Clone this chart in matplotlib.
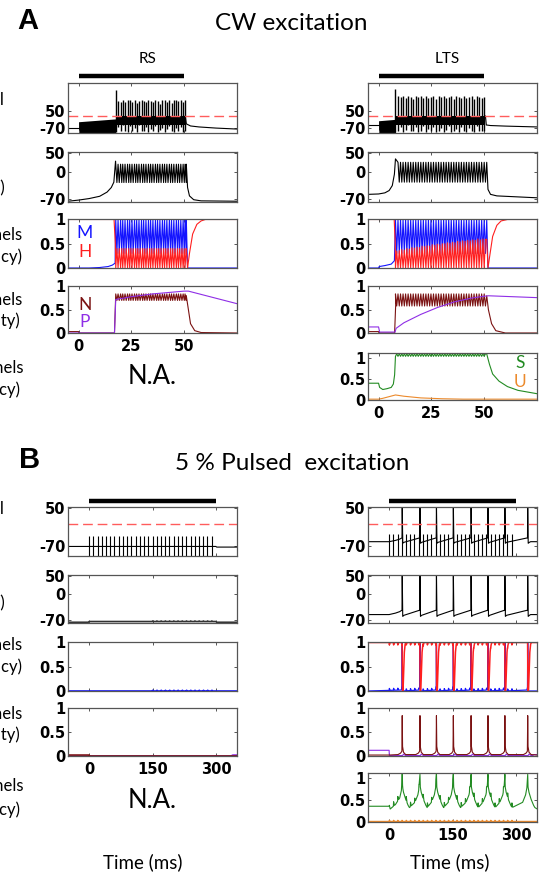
import numpy as np
import matplotlib.pyplot as plt

plt.rcParams['font.family'] = ['Lato', 'DejaVu Sans']
plt.rcParams['axes.unicode_minus'] = False

W, H = 542, 873  # figure size in pixels

BLUE, RED, BROWN, PURPLE = '#1414ff', '#ff1f1f', '#7b1212', '#8f2ee6'
GREEN, ORANGE, THR = '#228b22', '#ec8a2c', '#ff5c5c'

# ================= data =================
# --- A: CW excitation (time -5..75, light on 0..50)
cw_xlim = [-5, 75]
cw_ticks = [0, 25, 50]
cw_light = [0, 50]
cw_thr = 15

# RS cell
rs_spk = [17.6, 18.7, 19.9, 20.9, 22.0, 23.2, 24.2, 25.3, 26.5, 27.5, 28.6,
          29.8, 30.8, 31.9, 33.1, 34.1, 35.2, 36.4, 37.4, 38.5, 39.7, 40.7,
          41.8, 43.0, 44.0, 45.1, 46.3, 47.3, 48.4, 49.5, 50.4]
rs_in_peak = [200, 125, 118, 128, 112, 126, 130, 115, 127, 108, 125, 130, 120,
              112, 128, 124, 117, 130, 122, 102, 127, 129, 116, 128, 110, 126,
              130, 119, 126, 114, 128]
rs_in_low = [-95, -60, -92, -45, -88, -95, -55, -90, -70, -95, -48, -88, -93,
             -62, -95, -78, -90, -52, -95, -86, -66, -95, -80, -56, -92, -95,
             -72, -88, -62, -95, -90]
rs_in_pre = ([-5, 0], [-68, -68])
rs_in_block = ([0, 17.5], [-25, -5])
rs_in_band = [-45, 15]
rs_in_post = ([50.5, 51, 53, 57, 65, 75], [15, -40, -55, -62, -70, -77])

rs_v_pre = ([-5, 0, 5, 10, 13.5, 15.5, 16.7, 17.5], [-76, -73, -69, -63, -52, -40, -26, 29])
rs_v_hi, rs_v_lo = 21, -27
rs_v_post = ([51.0, 51.6, 52.5, 54.5, 58, 75], [21, -40, -62, -72, -75, -76])

rs_m_pre = ([-5, 5, 10, 14, 16, 17.3], [0, 0, 0.01, 0.03, 0.06, 0.1])
rs_m_post = ([51.0, 51.6, 75], [1, 0, 0])
rs_h_pre = ([-5, 16.8, 17.4], [1, 1, 0.5])
rs_h_top = 0.4
rs_h_post = ([51.0, 51.6, 52.5, 54, 56, 58, 60, 75], [0.4, 0, 0.3, 0.7, 0.9, 0.97, 1, 1])

rs_n_pre = ([-5, 0, 0.1, 17, 17.5], [0.03, 0.03, 0, 0, 0.7])
rs_n_hi, rs_n_lo = 0.84, 0.70
rs_n_post = ([51.0, 52, 53, 55, 58, 75], [0.8, 0.5, 0.2, 0.05, 0.01, 0])
rs_p = ([-5, 17, 17.6, 25, 35, 45, 50, 52, 75], [0, 0, 0.72, 0.78, 0.84, 0.88, 0.9, 0.9, 0.63])

# LTS cell
lts_spk = [8.0, 9.2, 10.4, 11.6, 12.8, 14.0, 15.2, 16.4, 17.6, 18.8, 20.0, 21.2,
           22.4, 23.6, 24.8, 26.0, 27.2, 28.4, 29.6, 30.8, 32.0, 33.2, 34.4,
           35.6, 36.8, 38.0, 39.2, 40.4, 41.6, 42.8, 44.0, 45.2, 46.4, 47.6,
           48.8, 50.0]
lts_in_peak = [205, 160, 150, 155, 140, 158, 150, 138, 158, 148, 155, 142, 160,
               140, 150, 157, 137, 155, 148, 158, 140, 150, 156, 139, 155, 148,
               142, 158, 140, 150, 155, 138, 157, 148, 140, 152]
lts_in_low = [-95, -92, -60, -95, -85, -50, -94, -90, -65, -95, -88, -55, -95,
              -80, -92, -60, -95, -90, -70, -95, -86, -58, -95, -92, -75, -95,
              -62, -90, -95, -68, -93, -95, -57, -90, -94, -88]
lts_in_pre = ([-5, 0], [-50, -50])
lts_in_block = ([0, 8], [-18, -8])
lts_in_band = [-45, 15]
lts_in_post = ([50.6, 51, 53, 60, 75], [15, -48, -52, -56, -62])

lts_v_pre = ([-5, 0, 3, 5, 6.5, 7.5, 8], [-58, -57, -54, -48, -35, -5, 35])
lts_v_hi, lts_v_lo = 26, -26
lts_v_post = ([51.2, 51.8, 53, 56, 75], [26, -45, -58, -62, -67])

lts_m_pre = ([-5, 0, 0.3, 3, 6, 7.5], [0, 0, 0.03, 0.05, 0.08, 0.15])
lts_m_post = ([51.2, 51.8, 75], [1, 0, 0])
lts_h_pre = ([-5, 7.4, 7.9], [1, 1, 0.5])
lts_h_top = [0.35, 0.36, 0.38, 0.37, 0.40, 0.39, 0.42, 0.41, 0.43, 0.42, 0.45,
             0.44, 0.46, 0.45, 0.48, 0.47, 0.49, 0.48, 0.50, 0.50, 0.52, 0.51,
             0.53, 0.52, 0.55, 0.54, 0.56, 0.55, 0.57, 0.56, 0.58, 0.57, 0.60,
             0.58, 0.60, 0.59]
lts_h_post = ([51.2, 51.8, 52.8, 54, 56, 58, 61, 75], [0.59, 0, 0.3, 0.65, 0.88, 0.97, 1, 1])

lts_n_pre = ([-5, 0, 0.2, 7.6, 8.1], [0.03, 0.03, 0, 0, 0.6])
lts_n_hi, lts_n_lo = 0.84, 0.58
lts_n_post = ([51.2, 52, 53.5, 55.5, 60, 75], [0.8, 0.5, 0.2, 0.05, 0, 0])
lts_p = ([-5, 0, 0.5, 7.8, 8.3, 12, 20, 28, 36, 44, 50, 52, 75],
         [0.13, 0.13, 0.02, 0.02, 0.1, 0.22, 0.4, 0.55, 0.67, 0.75, 0.79, 0.8, 0.76])

lts_s_pre = ([-5, 0, 0.5, 2, 4, 6, 7, 7.6], [0.4, 0.4, 0.3, 0.25, 0.27, 0.3, 0.38, 0.6])
lts_s_hi, lts_s_lo = 1.04, 1.10
lts_s_post = ([51.2, 51.6, 52.5, 54, 57, 61, 66, 75], [1.1, 1.02, 0.85, 0.62, 0.45, 0.32, 0.23, 0.15])
lts_u = ([-5, 0, 2, 5, 8, 12, 20, 30, 40, 75],
         [0.02, 0.02, 0.04, 0.08, 0.12, 0.09, 0.05, 0.03, 0.02, 0.02])

# --- B: 5 % pulsed excitation (time -50..350, light on 0..300)
pl_xlim = [-50, 350]
pl_ticks = [0, 150, 300]
pl_light = [0, 300]
pl_thr = 0
pulse_t = [0, 10, 20, 30, 40, 50, 60, 70, 80, 90, 100, 110, 120, 130, 140,
           150, 160, 170, 180, 190, 200, 210, 220, 230, 240, 250, 260, 270,
           280, 290]

# RS, pulsed (no firing)
rs5_base = ([-50, 300, 302, 350], [-70, -70, -72, -72])
rs5_pulse_top = -36
rs5_v = ([-50, -2, 0, 300, 302, 350], [-76, -76, -74, -74, -76, -76])
rs5_v_ripple = 1.5      # small ripples from 150 ms on
rs5_m_ripple = 0.015
rs5_n = ([-50, 0, 0.5, 350], [0.02, 0.02, 0, 0])
rs5_p = ([-50, 336, 340, 350], [0, 0, 0.02, 0.02])

# LTS, pulsed
lts5_spk = [31, 73, 112, 152, 194, 234, 274, 328]
lts5_pulse_top = -30
lts5_v_rest, lts5_v_after, lts5_v_before, lts5_v_peak = -55, -60, -43, 60
lts5_s_rest, lts5_s_peak = 0.36, 1.09
# ============================================================

fig = plt.figure(figsize=(W / 100, H / 100), dpi=100)


def add_ax(x, y, w, h):
    return fig.add_axes([x / W, 1 - (y + h) / H, w / W, h / H])


def style(ax, xlim, xt, ylim, yt, ytl, xlab=False):
    ax.set_xlim(xlim)
    ax.set_ylim(ylim)
    ax.set_xticks(xt)
    ax.set_yticks(yt)
    ax.set_yticklabels(ytl, fontweight='bold', fontsize=10.5, family='DejaVu Sans')
    if xlab:
        ax.set_xticklabels([str(v) for v in xt], fontweight='bold', fontsize=10.5,
                           family='DejaVu Sans')
    else:
        ax.set_xticklabels([])
    ax.tick_params(direction='in', top=True, right=True, length=2.5, width=0.7,
                   color='#555555', pad=2)
    ax.tick_params(axis='x', pad=4)
    for s in ax.spines.values():
        s.set_color('#555555')
        s.set_linewidth(0.9)


def zig(pre, spk, at_spk, after, half, post):
    # polyline: pre part, then one cycle per spike, then post part
    n = len(spk)
    a = np.broadcast_to(np.asarray(at_spk, float), (n,))
    b = np.broadcast_to(np.asarray(after, float), (n,))
    x, y = list(pre[0]), list(pre[1])
    for t, va, vb in zip(spk, a, b):
        x += [t, t + half]
        y += [va, vb]
    return x + list(post[0]), y + list(post[1])


def light_bar(ax, span, yfrac):
    ax.plot(span, [yfrac, yfrac], color='k', lw=3.2, solid_capstyle='butt',
            transform=ax.get_xaxis_transform(), clip_on=False)


def bumps(t, times, amp, rise=0.6, fall=2.5):
    out = np.zeros_like(t)
    for p in times:
        out += np.interp(t, [p, p + rise, p + fall], [0, amp, 0], left=0, right=0)
    return out


def ftext(x, y, s, **kw):
    fig.text(x / W, 1 - y / H, s, **kw)


LW = 0.8
colx = [68, 368]
cw_rows = [(83, 50), (152, 50), (219, 49), (286, 47), (353, 47)]
pl_rows = [(507, 49), (575, 48), (642, 49), (708, 48), (773, 49)]
CW = 169
pulse_grid = np.ravel([[p, p + 0.6, p + 2.5] for p in pulse_t])

# ---------------- Panel A, RS ----------------
ax = add_ax(colx[0], cw_rows[0][0], CW, cw_rows[0][1])
style(ax, cw_xlim, cw_ticks, (-105, 250), [-70, 50], ['-70', '50'])
ax.plot(*rs_in_pre, color='k', lw=LW)
ax.fill_between(rs_in_block[0], -110, rs_in_block[1], color='k', lw=0)
ax.fill_between([rs_spk[0], rs_spk[-1]], rs_in_band[0], rs_in_band[1], color='k', lw=0)
ax.vlines(rs_spk, rs_in_low, rs_in_peak, color='k', lw=1.0)
ax.plot(*rs_in_post, color='k', lw=LW)
ax.axhline(cw_thr, color=THR, lw=1, dashes=(7, 3.5))
light_bar(ax, cw_light, 1.14)

ax = add_ax(colx[0], cw_rows[1][0], CW, cw_rows[1][1])
style(ax, cw_xlim, cw_ticks, (-78, 53), [-70, 0, 50], ['-70', '0', '50'])
ax.plot(*zig(rs_v_pre, rs_spk, rs_v_hi, rs_v_lo, 0.55, rs_v_post), color='k', lw=LW)

ax = add_ax(colx[0], cw_rows[2][0], CW, cw_rows[2][1])
style(ax, cw_xlim, cw_ticks, (0, 1.01), [0, 0.5, 1], ['0', '0.5', '1'])
ax.plot(*zig(rs_m_pre, rs_spk, 1, 0.3, 0.55, rs_m_post), color=BLUE, lw=LW)
ax.plot(*zig(rs_h_pre, rs_spk, 0, rs_h_top, 0.55, rs_h_post), color=RED, lw=LW)
ftext(85, 233, 'M', color=BLUE, fontsize=12.5, ha='center', va='center')
ftext(85, 252, 'H', color=RED, fontsize=12.5, ha='center', va='center')

ax = add_ax(colx[0], cw_rows[3][0], CW, cw_rows[3][1])
style(ax, cw_xlim, cw_ticks, (0, 1.01), [0, 0.5, 1], ['0', '0.5', '1'], xlab=True)
ax.plot(*zig(rs_n_pre, rs_spk, rs_n_hi, rs_n_lo, 0.55, rs_n_post), color=BROWN, lw=LW)
ax.plot(*rs_p, color=PURPLE, lw=LW)
ftext(85, 305, 'N', color=BROWN, fontsize=12.5, ha='center', va='center')
ftext(85, 322, 'P', color=PURPLE, fontsize=12.5, ha='center', va='center')

# ---------------- Panel A, LTS ----------------
ax = add_ax(colx[1], cw_rows[0][0], CW, cw_rows[0][1])
style(ax, cw_xlim, cw_ticks, (-105, 250), [-70, 50], ['-70', '50'])
ax.plot(*lts_in_pre, color='k', lw=LW)
ax.fill_between(lts_in_block[0], -110, lts_in_block[1], color='k', lw=0)
ax.fill_between([lts_spk[0], lts_spk[-1]], lts_in_band[0], lts_in_band[1], color='k', lw=0)
ax.vlines(lts_spk, lts_in_low, lts_in_peak, color='k', lw=1.0)
ax.plot(*lts_in_post, color='k', lw=LW)
ax.axhline(cw_thr, color=THR, lw=1, dashes=(7, 3.5))
light_bar(ax, cw_light, 1.14)

ax = add_ax(colx[1], cw_rows[1][0], CW, cw_rows[1][1])
style(ax, cw_xlim, cw_ticks, (-78, 53), [-70, 0, 50], ['-70', '0', '50'])
ax.plot(*zig(lts_v_pre, lts_spk[1:], lts_v_hi, lts_v_lo, 0.6, lts_v_post), color='k', lw=LW)

ax = add_ax(colx[1], cw_rows[2][0], CW, cw_rows[2][1])
style(ax, cw_xlim, cw_ticks, (0, 1.01), [0, 0.5, 1], ['0', '0.5', '1'])
ax.plot(*zig(lts_m_pre, lts_spk, 1, 0.3, 0.6, lts_m_post), color=BLUE, lw=LW)
ax.plot(*zig(lts_h_pre, lts_spk, 0, lts_h_top, 0.6, lts_h_post), color=RED, lw=LW)

ax = add_ax(colx[1], cw_rows[3][0], CW, cw_rows[3][1])
style(ax, cw_xlim, cw_ticks, (0, 1.01), [0, 0.5, 1], ['0', '0.5', '1'])
ax.plot(*zig(lts_n_pre, lts_spk, lts_n_hi, lts_n_lo, 0.6, lts_n_post), color=BROWN, lw=LW)
ax.plot(*lts_p, color=PURPLE, lw=LW)

ax = add_ax(colx[1], cw_rows[4][0], CW, cw_rows[4][1])
style(ax, cw_xlim, cw_ticks, (0, 1.12), [0, 0.5, 1], ['0', '0.5', '1'], xlab=True)
ax.plot(*zig(lts_s_pre, lts_spk, lts_s_hi, lts_s_lo, 0.6, lts_s_post), color=GREEN, lw=LW)
ax.plot(*lts_u, color=ORANGE, lw=LW)
ftext(520, 363, 'S', color=GREEN, fontsize=12.5, ha='center', va='center')
ftext(520, 382, 'U', color=ORANGE, fontsize=12.5, ha='center', va='center')

# ---------------- Panel B, RS ----------------
ax = add_ax(colx[0], pl_rows[0][0], CW, pl_rows[0][1])
style(ax, pl_xlim, pl_ticks, (-100, 54), [-70, 50], ['-70', '50'])
ax.plot(*rs5_base, color='k', lw=LW)
ax.vlines(pulse_t, -100, rs5_pulse_top, color='k', lw=LW)
ax.axhline(pl_thr, color=THR, lw=1, dashes=(7, 3.5))
light_bar(ax, pl_light, 1.12)

ax = add_ax(colx[0], pl_rows[1][0], CW, pl_rows[1][1])
style(ax, pl_xlim, pl_ticks, (-78, 53), [-70, 0, 50], ['-70', '0', '50'])
tt = np.unique(np.concatenate([rs5_v[0], pulse_grid]))
late = [p for p in pulse_t if p >= 150]
ax.plot(tt, np.interp(tt, *rs5_v) + bumps(tt, late, rs5_v_ripple), color='#333333', lw=1.2)

ax = add_ax(colx[0], pl_rows[2][0], CW, pl_rows[2][1])
style(ax, pl_xlim, pl_ticks, (0, 1.01), [0, 0.5, 1], ['0', '0.5', '1'])
ax.plot(pl_xlim, [1, 1], color=RED, lw=1.2)
ax.plot(tt, bumps(tt, late, rs5_m_ripple), color=BLUE, lw=1.2)

ax = add_ax(colx[0], pl_rows[3][0], CW, pl_rows[3][1])
style(ax, pl_xlim, pl_ticks, (0, 1.01), [0, 0.5, 1], ['0', '0.5', '1'], xlab=True)
ax.plot(*rs5_p, color=PURPLE, lw=1.2)
ax.plot(*rs5_n, color=BROWN, lw=1.2)

# ---------------- Panel B, LTS ----------------
vx = [-50, 0, 15, 25]
vy = [lts5_v_rest, lts5_v_rest, -51, -47]
for t in lts5_spk:
    vx += [t - 0.5, t, t + 1.2, t + 4]
    vy += [lts5_v_before, lts5_v_peak, lts5_v_after, -57]
vx += [335, 350]
vy += [lts5_v_rest, lts5_v_rest]

ax = add_ax(colx[1], pl_rows[0][0], CW, pl_rows[0][1])
style(ax, pl_xlim, pl_ticks, (-100, 54), [-70, 50], ['-70', '50'])
ax.plot(vx, vy, color='k', lw=LW)
ax.vlines(pulse_t, -100, lts5_pulse_top, color='k', lw=LW)
ax.axhline(pl_thr, color=THR, lw=1, dashes=(7, 3.5))
light_bar(ax, pl_light, 1.12)

ax = add_ax(colx[1], pl_rows[1][0], CW, pl_rows[1][1])
style(ax, pl_xlim, pl_ticks, (-78, 53), [-70, 0, 50], ['-70', '0', '50'])
ax.plot(vx, vy, color='k', lw=LW)

# gating variables around each spike
mx, my = [-50], [0]
hx, hy = [-50], [1]
nx, ny = [-50, 0, 0.5], [0.02, 0.02, 0.02]
qx, qy = [-50, 0, 0.5], [0.12, 0.12, 0.01]
for t in lts5_spk:
    mx += [t - 2, t - 0.5, t, t + 0.6, t + 1.5]
    my += [0.02, 0.08, 1, 0.05, 0]
    hx += [t - 0.3, t + 0.6, t + 2, t + 3.5, t + 5, t + 7, t + 9]
    hy += [1, 0, 0.02, 0.4, 0.8, 0.97, 1]
    nx += [t - 10, t - 4, t - 0.8, t, t + 0.8, t + 3, t + 8]
    ny += [0.03, 0.06, 0.1, 0.85, 0.2, 0.08, 0.03]
    qx += [t + 1, t + 3, t + 8]
    qy += [0.01, 0.04, 0.01]
mx += [350]; my += [0]
hx += [350]; hy += [1]
nx += [350]; ny += [0.02]
qx += [340, 343, 350]; qy += [0.01, 0.03, 0.03]

grid = np.unique(np.concatenate([mx, hx, pulse_grid]))
ax = add_ax(colx[1], pl_rows[2][0], CW, pl_rows[2][1])
style(ax, pl_xlim, pl_ticks, (0, 1.01), [0, 0.5, 1], ['0', '0.5', '1'])
ax.plot(grid, np.interp(grid, mx, my) + bumps(grid, pulse_t, 0.04), color=BLUE, lw=0.9)
ax.plot(grid, np.interp(grid, hx, hy) - bumps(grid, pulse_t, 0.05), color=RED, lw=1.1)

ax = add_ax(colx[1], pl_rows[3][0], CW, pl_rows[3][1])
style(ax, pl_xlim, pl_ticks, (0, 1.01), [0, 0.5, 1], ['0', '0.5', '1'])
ax.plot(qx, qy, color=PURPLE, lw=LW)
ax.plot(nx, ny, color=BROWN, lw=LW)

# S: decay after each spike, build-up before the next
sx = [-50, 0, 0.5, 15, 25, 29]
sy = [lts5_s_rest, lts5_s_rest, 0.28, 0.4, 0.55, 0.72]
for i, t in enumerate(lts5_spk):
    sx += [t, t + 0.8, t + 3, t + 8, t + 14, t + 17]
    sy += [lts5_s_peak, 0.8, 0.68, 0.52, 0.38, 0.33]
    if i + 1 < len(lts5_spk):
        nt = lts5_spk[i + 1]
        sx += [nt - 12, nt - 5, nt - 2]
        sy += [0.45, 0.62, 0.78]
sx += [350]; sy += [0.3]
sgrid = np.unique(np.concatenate([sx, pulse_grid]))
ax = add_ax(colx[1], pl_rows[4][0], CW, pl_rows[4][1])
style(ax, pl_xlim, pl_ticks, (0, 1.12), [0, 0.5, 1], ['0', '0.5', '1'], xlab=True)
ax.plot(sgrid, np.interp(sgrid, sx, sy) + bumps(sgrid, pulse_t, 0.1), color=GREEN, lw=LW)
ax.plot(sgrid, 0.01 + bumps(sgrid, pulse_t, 0.025), color=ORANGE, lw=1.1)

# ---------------- texts ----------------
ftext(28, 21, 'A', fontsize=21, fontweight='bold', family='Liberation Sans', ha='center', va='center')
ftext(30, 460, 'B', fontsize=21, fontweight='bold', family='Liberation Sans', ha='center', va='center')
ftext(291, 24, 'CW excitation', fontsize=17.5, ha='center', va='center')
ftext(292, 463, '5 % Pulsed  excitation', fontsize=17.5, ha='center', va='center')
ftext(148, 59, 'RS', fontsize=11, ha='center', va='center')
ftext(447, 59, 'LTS', fontsize=11, ha='center', va='center')
ftext(152, 376, 'N.A.', fontsize=18.5, ha='center', va='center')
ftext(152, 800, 'N.A.', fontsize=18.5, ha='center', va='center')
ftext(143, 862, 'Time (ms)', fontsize=13.5, ha='center', va='center')
ftext(450, 862, 'Time (ms)', fontsize=13.5, ha='center', va='center')

# row labels, cut off by the left edge of the figure as in the original
row_labels = [
    (4, 100, 'Input signal'), (5, 188, 'Vm (mV)'),
    (22, 235, 'Na channels'), (22, 257, '(occupancy)'),
    (22, 300, 'K channels'), (20, 321, '(probability)'),
    (24, 368, 'Ca channels'), (20, 390, '(occupancy)'),
    (4, 509, 'Input signal'), (5, 603, 'Vm (mV)'),
    (22, 645, 'Na channels'), (22, 667, '(occupancy)'),
    (22, 714, 'K channels'), (20, 735, '(probability)'),
    (24, 786, 'Ca channels'), (20, 810, '(occupancy)'),
]
for x, y, s in row_labels:
    ftext(x, y, s, fontsize=12, ha='right', va='center')

fig.savefig('out.png', dpi=100)
